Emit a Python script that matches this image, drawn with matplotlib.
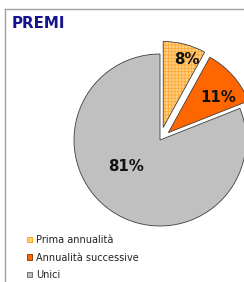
import matplotlib
matplotlib.use("Agg")
import matplotlib.pyplot as plt
from matplotlib.patches import Wedge, Patch
from matplotlib.lines import Line2D

# data
labels = ["Prima annualità", "Annualità successive", "Unici"]
values = [8, 11, 81]
colors = ["#FFD08A", "#FF6600", "#C0C0C0"]
explode = [0.15, 0.13, 0.0]
title = "PREMI"

W, H, DPI = 244, 282, 100
R_PX = 86            # pie radius in pixels
CX, CY = 160, 140    # pie centre (pixels from top-left)

plt.rcParams["hatch.linewidth"] = 0.6

fig = plt.figure(figsize=(W / DPI, H / DPI), dpi=DPI)
ax = fig.add_axes([0, 0, 1, 1])

wedges, _ = ax.pie(values, colors=colors, explode=explode, startangle=90,
                   counterclock=False,
                   wedgeprops=dict(edgecolor="#404040", linewidth=0.6))

# hatched look for the first slice: hatch in orange, outline redrawn on top
w0 = wedges[0]
w0.set_edgecolor("#FFA830")
w0.set_hatch("+++++")
w0.set_linewidth(0)
outline = Wedge(w0.center, w0.r, w0.theta1, w0.theta2, fill=False,
                edgecolor="#404040", linewidth=0.6)
ax.add_patch(outline)

# percentage labels (offsets in units of radius)
label_pos = [(0.31, 0.94), (0.68, 0.49), (-0.40, -0.31)]
for v, (x, y) in zip(values, label_pos):
    ax.text(x, y, f"{v}%", ha="center", va="center", fontsize=10.8,
            fontweight="bold", color="#111111")

ax.set_aspect("auto")
ax.set_xlim(-CX / R_PX, (W - CX) / R_PX)
ax.set_ylim(-(H - CY) / R_PX, CY / R_PX)
ax.axis("off")

# frame lines (top and left)
fig.add_artist(Line2D([5 / W, 1], [1 - 9 / H, 1 - 9 / H], color="#A0A0A0",
                      linewidth=1.0, transform=fig.transFigure))
fig.add_artist(Line2D([5 / W, 5 / W], [0, 1 - 9 / H], color="#A0A0A0",
                      linewidth=1.0, transform=fig.transFigure))

fig.text(12 / W, 1 - 23.5 / H, title, fontsize=10.8, fontweight="bold",
         color="#14148C", ha="left", va="center")

handles = [
    Patch(facecolor="#FFD070", edgecolor="#FF9900", linewidth=0.6),
    Patch(facecolor="#FF6600", edgecolor="#803300", linewidth=0.6),
    Patch(facecolor="#C0C0C0", edgecolor="#606060", linewidth=0.6),
]
fig.legend(handles, labels, loc="upper left",
           bbox_to_anchor=(27 / W, 1 - 235 / H), frameon=False,
           fontsize=7, handlelength=0.5, handleheight=0.5,
           handletextpad=0.4, labelspacing=0.78, borderpad=0,
           borderaxespad=0, labelcolor="#222222")

fig.savefig("out.png", dpi=DPI)
